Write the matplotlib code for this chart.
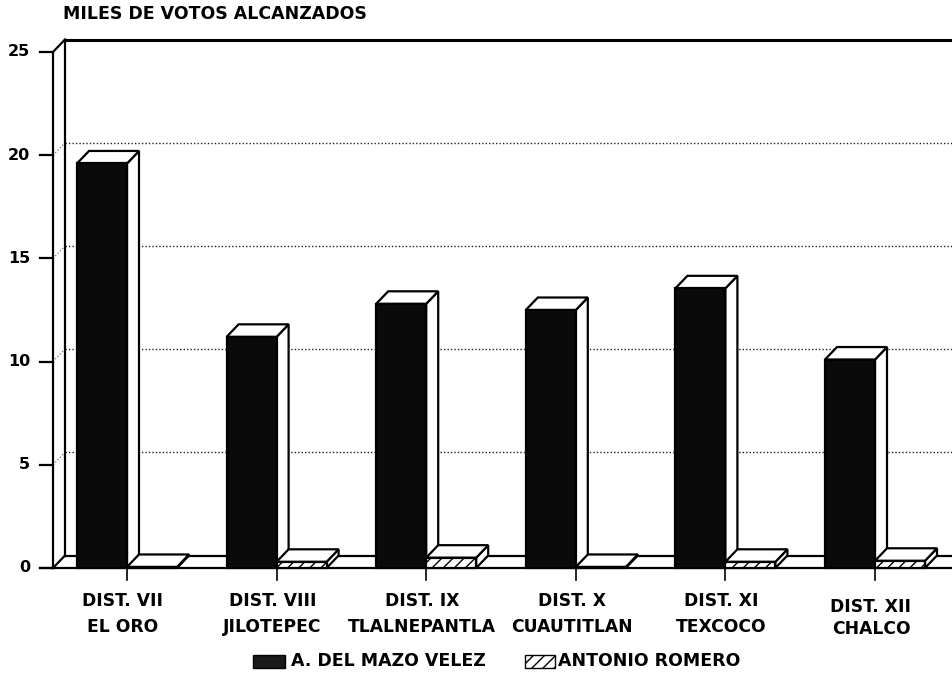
import matplotlib
matplotlib.use("Agg")
import matplotlib.pyplot as plt
from matplotlib.patches import Polygon, Rectangle

# ---- data ----
dist_labels = ["DIST. VII", "DIST. VIII", "DIST. IX", "DIST. X", "DIST. XI", "DIST. XII"]
place_labels = ["EL ORO", "JILOTEPEC", "TLALNEPANTLA", "CUAUTITLAN", "TEXCOCO", "CHALCO"]
mazo_values = [19.6, 11.2, 12.8, 12.5, 13.55, 10.1]
romero_values = [0.05, 0.3, 0.5, 0.05, 0.3, 0.35]
series_names = ["A. DEL MAZO VELEZ", "ANTONIO ROMERO"]
y_ticks = [0, 5, 10, 15, 20, 25]

W, H = 953, 674
fig = plt.figure(figsize=(W / 100, H / 100), dpi=100)
ax = fig.add_axes([0, 0, 1, 1])

# pixel geometry -> data scale
px_per_cat = 149.6
x_tick0_px = 127.0
px_per_unit = 20.64
y0_px = 568.0
ax.set_xlim(-x_tick0_px / px_per_cat, (W - x_tick0_px) / px_per_cat)
ax.set_ylim((y0_px - H) / px_per_unit, y0_px / px_per_unit)
ax.axis("off")

def px2x(px):
    return px / px_per_cat

def px2y(px):
    return px / px_per_unit

dx = px2x(12)
dy = px2y(12.5)
bw = px2x(50)
x_axis = -px2x(127 - 53)
x_right = ax.get_xlim()[1]
ymax = 25

lw = 1.6
FONT = "DejaVu Sans"

# left wall
ax.plot([x_axis, x_axis], [0, ymax], color="black", lw=lw, zorder=2)
ax.plot([x_axis + dx, x_axis + dx], [dy, ymax + dy], color="black", lw=lw, zorder=2)
ax.plot([x_axis, x_axis + dx], [ymax, ymax + dy], color="black", lw=lw, zorder=2)
ax.plot([x_axis, x_axis + dx], [0, dy], color="black", lw=lw, zorder=2)
# top back edge
ax.plot([x_axis + dx, x_right], [ymax + dy, ymax + dy], color="black", lw=2.2, zorder=2)
# floor
ax.plot([x_axis - px2x(13), x_right], [0, 0], color="black", lw=lw, zorder=2)
ax.plot([x_axis + dx, x_right], [dy, dy], color="black", lw=lw, zorder=1)

# gridlines & ticks
for t in y_ticks:
    ax.plot([x_axis - px2x(13), x_axis], [t, t], color="black", lw=lw, zorder=2)
    ax.text(x_axis - px2x(23), t, str(t), ha="right", va="center",
            fontsize=11.5, fontweight="bold", family=FONT, zorder=3)
    if 0 < t < ymax:
        ax.plot([x_axis + dx, x_right], [t + dy, t + dy], color="#222222",
                lw=1.0, ls=(0, (1, 1.5)), zorder=1)
        ax.plot([x_axis, x_axis + dx], [t, t + dy], color="#555555",
                lw=0.8, ls=(0, (1, 2)), zorder=1)

def bar3d(x0, h, front_color, hatch=None, z=5):
    front = Rectangle((x0, 0), bw, h, facecolor=front_color, edgecolor="black",
                      lw=lw, hatch=hatch, zorder=z)
    top = Polygon([(x0, h), (x0 + bw, h), (x0 + bw + dx, h + dy), (x0 + dx, h + dy)],
                  closed=True, facecolor="white", edgecolor="black", lw=lw, zorder=z)
    side = Polygon([(x0 + bw, 0), (x0 + bw + dx, dy), (x0 + bw + dx, h + dy), (x0 + bw, h)],
                   closed=True, facecolor="white", edgecolor="black", lw=lw, zorder=z)
    for p in (side, top, front):
        ax.add_patch(p)

for i, (a, b) in enumerate(zip(mazo_values, romero_values)):
    bar3d(i - bw, a, "#0a0a0a", z=5 + i * 2)
    bar3d(i, b, "white", hatch="///", z=6 + i * 2)
    ax.plot([i, i], [0, -px2y(12)], color="black", lw=1.2, zorder=2)
    off = px2y(6) if i == 5 else 0
    ax.text(i - px2x(4), -px2y(33) - off, dist_labels[i], ha="center", va="center",
            fontsize=12.3, fontweight="bold", family=FONT)
    ax.text(i - px2x(4), -px2y(59) - off * 0.3, place_labels[i], ha="center", va="center",
            fontsize=12.3, fontweight="bold", family=FONT)

# title
ax.text(-px2x(127 - 63), px2y(568 - 14), "MILES DE VOTOS ALCANZADOS", ha="left",
        va="center", fontsize=12.5, fontweight="bold", family=FONT)

# legend
ly = -px2y(661 - 568)
sh = px2y(13)
ax.add_patch(Rectangle((px2x(253 - 127), ly - sh / 2), px2x(32), sh,
                       facecolor="#1a1a1a", edgecolor="black", lw=1, zorder=5))
ax.text(px2x(291 - 127), ly, series_names[0], ha="left", va="center",
        fontsize=12.5, fontweight="bold", family=FONT)
ax.add_patch(Rectangle((px2x(525 - 127), ly - sh / 2), px2x(30), sh,
                       facecolor="white", edgecolor="black", lw=1, hatch="///", zorder=5))
ax.text(px2x(558 - 127), ly, series_names[1], ha="left", va="center",
        fontsize=12.5, fontweight="bold", family=FONT)

fig.savefig("out.png", dpi=100, facecolor="white")
